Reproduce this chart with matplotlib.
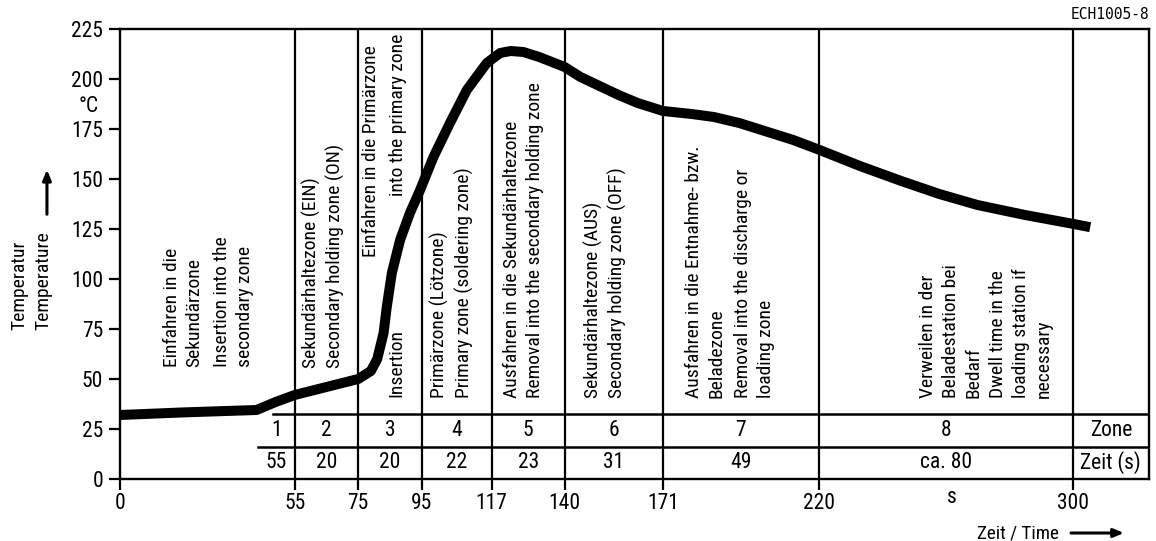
import matplotlib
matplotlib.use("Agg")
import matplotlib.pyplot as plt  # noqa: E402
from matplotlib import font_manager  # noqa: E402

# the original uses a condensed grotesque; take the narrowest family we have
_names = {f.name for f in font_manager.fontManager.ttflist}
_narrow = [n for n in ("Liberation Sans Narrow", "Roboto Condensed", "Arial Narrow") if n in _names]
if _narrow:
    plt.rcParams["font.family"] = [_narrow[0], "DejaVu Sans"]
else:
    plt.rcParams["font.family"] = ["DejaVu Sans"]
    plt.rcParams["font.stretch"] = "condensed"

# temperature profile (time in s, temperature in degC)
time_s = [0, 20, 43, 49, 55, 65, 75, 79, 81, 83, 84, 85.6, 88.2, 91.3, 94.5, 98.7,
          103.9, 109.2, 115.5, 119.7, 123, 127, 132, 136, 140, 145, 151, 157, 163,
          171, 180, 187, 195, 204, 212, 220, 233, 246, 258, 270, 285, 300, 305.5]
temp_c = [32, 33.3, 34.5, 38.5, 42, 46, 50, 54, 60, 73, 86, 103, 119.5, 133, 144.5, 161,
          178, 194.5, 208, 213, 214, 213.5, 211, 208.5, 206, 201, 196.5, 192, 188,
          184, 182.5, 181, 178, 173.5, 169.5, 164.7, 156.5, 149, 142.5, 137, 132, 127.6, 125.9]

# zone table
zone_edges = [55, 75, 95, 117, 140, 171, 220, 300]
zone_names = ["1", "2", "3", "4", "5", "6", "7", "8"]
zone_times = ["55", "20", "20", "22", "23", "31", "49", "ca. 80"]
y_ticks = [0, 25, 50, 75, 100, 125, 150, 175, 200, 225]

zone_notes = [
    "Einfahren in die\nSekundärzone",
    "Insertion into the\nsecondary zone",
    "Sekundärhaltezone (EIN)\nSecondary holding zone (ON)",
    "Einfahren in die Primärzone",
    "into the primary zone",
    "Insertion",
    "Primärzone (Lötzone)\nPrimary zone (soldering zone)",
    "Ausfahren in die Sekundärhaltezone\nRemoval into the secondary holding zone",
    "Sekundärhaltezone (AUS)\nSecondary holding zone (OFF)",
    "Ausfahren in die Entnahme- bzw.\nBeladezone",
    "Removal into the discharge or\nloading zone",
    "Verweilen in der\nBeladestation bei\nBedarf",
    "Dwell time in the\nloading station if\nnecessary",
]
# layout of the notes: x, y anchor, vertical anchor
note_layout = [
    (19.9, 55.8, "bottom"), (35.8, 55.8, "bottom"), (64.0, 55.3, "bottom"),
    (78.9, 217, "top"), (87.6, 222.5, "top"), (87.1, 41.0, "bottom"),
    (104.5, 40.5, "bottom"), (127.0, 40.5, "bottom"), (152.8, 40.5, "bottom"),
    (184.2, 40.5, "bottom"), (199.8, 40.5, "bottom"), (261.6, 40.5, "bottom"),
    (283.6, 40.5, "bottom"),
]

X_MAX = 324
ROW_MID = 16.2
ROW_TOP = 32.5
NOTE_SIZE = 14
NUM_SIZE = 15.5

fig = plt.figure(figsize=(11.56, 5.41), dpi=100)
ax = fig.add_axes([0.1038, 0.1146, 0.8901, 0.8318])
ax.set_xlim(0, X_MAX)
ax.set_ylim(0, 225)

for s in ax.spines.values():
    s.set_linewidth(1.7)

for x in zone_edges:
    ax.axvline(x, color="black", lw=1.6, zorder=2)

# table rows
ax.plot([48.3, X_MAX], [ROW_TOP, ROW_TOP], color="black", lw=1.8, zorder=2)
ax.plot([43.6, X_MAX], [ROW_MID, ROW_MID], color="black", lw=1.8, zorder=2)

for i, (name, t) in enumerate(zip(zone_names, zone_times)):
    if i == 0:
        xc = 49.2
    else:
        xc = (zone_edges[i - 1] + zone_edges[i]) / 2
    ax.text(xc, (ROW_MID + ROW_TOP) / 2, name, ha="center", va="center", fontsize=NUM_SIZE)
    ax.text(xc, ROW_MID / 2, t, ha="center", va="center", fontsize=NUM_SIZE)
ax.text((300 + X_MAX) / 2, (ROW_MID + ROW_TOP) / 2, "Zone", ha="center", va="center", fontsize=NUM_SIZE)
ax.text((300 + X_MAX) / 2, ROW_MID / 2, "Zeit (s)", ha="center", va="center", fontsize=NUM_SIZE)

for note, (x, y, va) in zip(zone_notes, note_layout):
    align = "right" if va == "top" else "left"
    ax.text(x, y, note, rotation=90, ha="center", va=va, multialignment=align,
            fontsize=NOTE_SIZE, linespacing=1.35)

ax.plot(time_s, temp_c, color="black", lw=7.2, solid_capstyle="butt",
        solid_joinstyle="round", zorder=3)

ax.set_xticks([0] + zone_edges)
ax.set_yticks(y_ticks)
ax.tick_params(axis="both", direction="out", length=8, width=1.6, labelsize=NUM_SIZE)
ax.tick_params(axis="x", pad=2)
ax.tick_params(axis="y", pad=4)

ax.text(262, -4, "s", ha="center", va="top", fontsize=NUM_SIZE, clip_on=False)
ax.text(-10, 186, "°C", ha="center", va="center", fontsize=NUM_SIZE, clip_on=False)

# axis titles with arrows
ax.text(-27.9, 74.5, "Temperatur\nTemperature", rotation=90, ha="center", va="bottom",
        multialignment="left", fontsize=14, linespacing=1.45, clip_on=False)
ax.annotate("", xy=(-23, 156), xytext=(-23, 131), xycoords="data", annotation_clip=False,
            arrowprops=dict(arrowstyle="-|>,head_length=0.6,head_width=0.25", color="black", lw=2.2))
ax.text(270, -27, "Zeit / Time", ha="left", va="center", fontsize=13.7, clip_on=False)
ax.annotate("", xy=(317, -27), xytext=(298.6, -27), xycoords="data", annotation_clip=False,
            arrowprops=dict(arrowstyle="-|>,head_length=0.6,head_width=0.25", color="black", lw=2.2))

ax.text(X_MAX, 232, "ECH1005-8", ha="right", va="center", fontsize=10.5,
        family="DejaVu Sans Mono", stretch="condensed", clip_on=False)

fig.savefig("out.png", dpi=100)
